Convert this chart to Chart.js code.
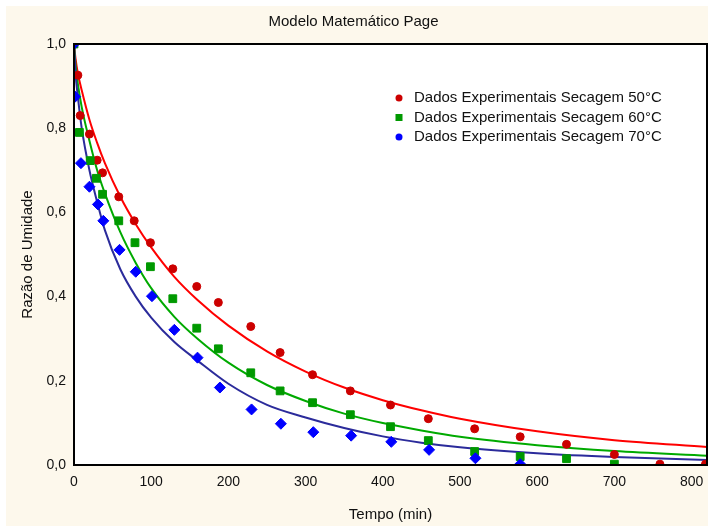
<!DOCTYPE html>
<html>
<head>
<meta charset="utf-8">
<script src="https://cdn.jsdelivr.net/npm/chart.js@4"></script>
<style>
  html, body { margin: 0; padding: 0; background: #ffffff; }
  #chart-box { width: 708px; height: 526px; }
</style>
</head>
<body>
<div id="chart-box"><canvas id="page-chart" width="708" height="526"></canvas></div>
<script>
// Dados experimentais (tempo em min, razão de umidade)
const tempo50 = [0, 5, 8, 20, 30, 37, 58, 78, 99, 128, 159, 187, 229, 267, 309, 358, 410, 459, 519, 578, 638, 700, 759, 818];
const umidade50 = [1.0, 0.926, 0.83, 0.786, 0.724, 0.694, 0.637, 0.580, 0.528, 0.466, 0.424, 0.386, 0.329, 0.267, 0.2145, 0.176, 0.1425, 0.110, 0.086, 0.067, 0.049, 0.025, 0.002, 0.002];

const tempo60 = [0, 7, 21, 29, 37, 58, 79, 99, 128, 159, 187, 229, 267, 309, 358, 410, 459, 519, 578, 638, 700];
const umidade60 = [1.0, 0.79, 0.723, 0.681, 0.643, 0.580, 0.528, 0.471, 0.395, 0.325, 0.276, 0.219, 0.176, 0.148, 0.1195, 0.091, 0.058, 0.032, 0.020, 0.015, 0.002];

const tempo70 = [0, 1.5, 9, 20, 31, 38, 59, 80, 101, 130, 160, 189, 230, 268, 310, 359, 411, 460, 520, 578];
const umidade70 = [1.0, 0.875, 0.717, 0.661, 0.619, 0.580, 0.511, 0.459, 0.401, 0.321, 0.255, 0.184, 0.132, 0.098, 0.078, 0.0697, 0.055, 0.036, 0.016, 0.002];

// Curvas ajustadas
const tempoCurva = [0, 2, 5, 10, 20, 30, 40, 60, 80, 100, 130, 160, 200, 250, 300, 350, 400, 450, 500, 600, 700, 820];
const curva50 = [1.0, 0.965, 0.93, 0.89, 0.82, 0.765, 0.717, 0.637, 0.572, 0.517, 0.447, 0.392, 0.331, 0.270, 0.222, 0.184, 0.154, 0.130, 0.110, 0.080, 0.059, 0.043];
const curva60 = [1.0, 0.95, 0.905, 0.85, 0.77, 0.70, 0.645, 0.553, 0.48, 0.42, 0.352, 0.30, 0.243, 0.19, 0.152, 0.122, 0.0996, 0.082, 0.067, 0.047, 0.033, 0.022];
const curva70 = [1.0, 0.93, 0.875, 0.80, 0.70, 0.625, 0.558, 0.465, 0.40, 0.35, 0.292, 0.248, 0.193, 0.143, 0.113, 0.088, 0.068, 0.053, 0.042, 0.028, 0.019, 0.012];

const serieLabels = [
  "Dados Experimentais Secagem 50°C",
  "Dados Experimentais Secagem 60°C",
  "Dados Experimentais Secagem 70°C",
];
const xTicks = [0, 100, 200, 300, 400, 500, 600, 700, 800];
const yTicks = [0, 0.2, 0.4, 0.6, 0.8, 1.0];

const FONT_FAMILY = "'Liberation Sans', Arial, sans-serif";

function toPoints(xs, ys) {
  return xs.map((x, i) => ({ x, y: ys[i] }));
}

function formatDecimal(value) {
  return Number(value).toFixed(1).replace(".", ",");
}

const backgroundPlugin = {
  id: "pageBackground",
  beforeDraw(chart) {
    const { ctx, chartArea } = chart;
    ctx.save();
    ctx.fillStyle = "#ffffff";
    ctx.fillRect(0, 0, chart.width, chart.height);
    ctx.fillStyle = "#fdf8ec";
    ctx.fillRect(6, 6, chart.width - 6, chart.height - 6);
    ctx.fillStyle = "#ffffff";
    ctx.fillRect(chartArea.left, chartArea.top, chartArea.right - chartArea.left, chartArea.bottom - chartArea.top);
    ctx.restore();
  },
  afterDraw(chart) {
    const { ctx, chartArea } = chart;
    ctx.save();
    ctx.strokeStyle = "#000000";
    ctx.lineWidth = 2;
    ctx.strokeRect(chartArea.left, chartArea.top, chartArea.right - chartArea.left, chartArea.bottom - chartArea.top);
    ctx.restore();
  },
};

const legendPlugin = {
  id: "insideLegend",
  afterDraw(chart) {
    const ctx = chart.ctx;
    const markers = [
      { color: "#cc0000", shape: "circle" },
      { color: "#009900", shape: "square" },
      { color: "#0000ff", shape: "circle" },
    ];
    ctx.save();
    ctx.font = "15px " + FONT_FAMILY;
    ctx.textBaseline = "middle";
    ctx.textAlign = "left";
    serieLabels.forEach((label, i) => {
      const y = 98 + i * 19.5;
      ctx.fillStyle = markers[i].color;
      if (markers[i].shape === "circle") {
        ctx.beginPath();
        ctx.arc(399, y, 3.5, 0, Math.PI * 2);
        ctx.fill();
      } else {
        ctx.fillRect(395.5, y - 3.5, 7, 7);
      }
      ctx.fillStyle = "#111111";
      ctx.fillText(label, 414, y);
    });
    ctx.restore();
  },
};

const pointSet = (label, data, color, style, radius) => ({
  type: "scatter",
  label,
  data,
  showLine: false,
  pointStyle: style,
  pointRadius: radius,
  pointHoverRadius: radius,
  pointBackgroundColor: color,
  pointBorderColor: color,
  pointBorderWidth: 1,
  clip: 0,
});

const lineSet = (label, data, color) => ({
  type: "scatter",
  label,
  data,
  showLine: true,
  borderColor: color,
  borderWidth: 2,
  pointRadius: 0,
  pointHoverRadius: 0,
  cubicInterpolationMode: "monotone",
  fill: false,
});

const datasets = [
  pointSet(serieLabels[2], toPoints(tempo70, umidade70), "#0000ff", "rectRot", 5.5),
  pointSet(serieLabels[1], toPoints(tempo60, umidade60), "#009900", "rect", 5.5),
  pointSet(serieLabels[0], toPoints(tempo50, umidade50), "#cc0000", "circle", 4),
  lineSet("Ajuste 70°C", toPoints(tempoCurva, curva70), "#2b2b9b"),
  lineSet("Ajuste 60°C", toPoints(tempoCurva, curva60), "#00aa00"),
  lineSet("Ajuste 50°C", toPoints(tempoCurva, curva50), "#ff0000"),
];

new Chart(document.getElementById("page-chart").getContext("2d"), {
  type: "scatter",
  data: { datasets },
  options: {
    responsive: false,
    animation: false,
    devicePixelRatio: 1,
    layout: { autoPadding: false, padding: { top: 0, right: 1, bottom: 0, left: 0 } },
    plugins: {
      legend: { display: false },
      tooltip: { enabled: false },
      title: {
        display: true,
        text: "Modelo Matemático Page",
        color: "#111111",
        font: { family: FONT_FAMILY, size: 15, weight: "normal", lineHeight: 1.2 },
        padding: { top: 13, bottom: 13 },
      },
    },
    scales: {
      x: {
        type: "linear",
        min: 0,
        max: 820,
        afterFit(scale) {
          scale.height = 61;
          scale.paddingLeft = 0;
          scale.paddingRight = 0;
        },
        afterBuildTicks(scale) { scale.ticks = xTicks.map((value) => ({ value })); },
        grid: { display: false, drawTicks: false },
        border: { display: false },
        ticks: {
          autoSkip: false,
          maxRotation: 0,
          padding: 9,
          color: "#111111",
          font: { family: FONT_FAMILY, size: 14 },
          callback: (value) => String(value),
        },
        title: {
          display: true,
          text: "Tempo (min)",
          color: "#111111",
          font: { family: FONT_FAMILY, size: 15, lineHeight: 1.2 },
          padding: { top: 0, bottom: 2 },
        },
      },
      y: {
        type: "linear",
        min: 0,
        max: 1,
        afterFit(scale) {
          scale.width = 74;
          scale.paddingTop = 0;
          scale.paddingBottom = 0;
        },
        afterBuildTicks(scale) { scale.ticks = yTicks.map((value) => ({ value })); },
        grid: { display: false, drawTicks: false },
        border: { display: false },
        ticks: {
          autoSkip: false,
          padding: 8,
          color: "#111111",
          font: { family: FONT_FAMILY, size: 14 },
          callback: (value) => formatDecimal(value),
        },
        title: {
          display: true,
          text: "Razão de Umidade",
          color: "#111111",
          font: { family: FONT_FAMILY, size: 15, lineHeight: 1.2 },
          padding: { top: 19, bottom: 0 },
        },
      },
    },
  },
  plugins: [backgroundPlugin, legendPlugin],
});
</script>
</body>
</html>
